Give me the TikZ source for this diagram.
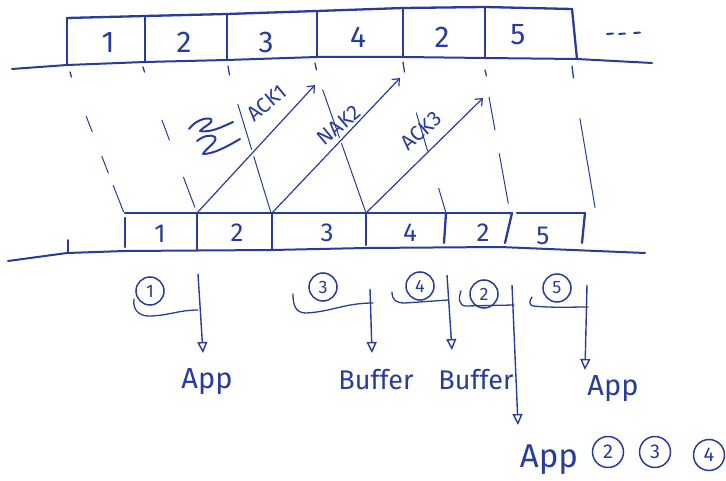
\documentclass[tikz,border=0pt]{standalone}
\usepackage{fontspec}
\setmainfont{Fira Sans}
\usetikzlibrary{arrows.meta,calc}
\definecolor{pen}{RGB}{40,60,155}
\tikzset{
  boxline/.style={pen, line width=2.3pt, line cap=round, line join=round},
  wire/.style={pen, line width=2pt, line cap=round, line join=round},
  prop/.style={pen, line width=1pt, line cap=round},
  tickmark/.style={pen, line width=1.3pt, line cap=round},
  ackarrow/.style={pen, line width=1.2pt, -{Straight Barb[length=6pt,width=10pt]}},
  acklabel/.style={pen, font=\fontsize{21}{21}\selectfont, inner sep=0pt},
  digit/.style={pen, font=\fontsize{30}{30}\selectfont, inner sep=0pt},
  sdigit/.style={pen, font=\fontsize{26}{26}\selectfont, inner sep=0pt},
  circnum/.style={pen, draw, circle, line width=1.5pt, inner sep=0pt, minimum size=28pt, font=\fontsize{18}{18}\selectfont},
  bigcirc/.style={circnum, minimum size=31pt, font=\fontsize{20}{20}\selectfont},
  bracket/.style={pen, line width=1.3pt, line cap=round},
  deliver/.style={pen, line width=1.4pt, -{Triangle[open, length=11pt, width=10pt]}},
  word/.style={pen, font=\fontsize{29}{29}\selectfont, inner sep=0pt, anchor=base},
}
\begin{document}
\begin{tikzpicture}[x=1pt,y=-1pt]
\useasboundingbox (0,0) rectangle (726,481);

% ---------- sender stream (top) ----------
\coordinate (t0) at (67,18);  \coordinate (t1) at (145,16);
\coordinate (t2) at (227,14); \coordinate (t3) at (317,11);
\coordinate (t4) at (403,8);  \coordinate (t5) at (485,7);
\coordinate (t6) at (572,9);
\coordinate (b0) at (67,65);  \coordinate (b1) at (145,62);
\coordinate (b2) at (227,60); \coordinate (b3) at (317,57);
\coordinate (b4) at (403,57); \coordinate (b5) at (485,58);
\coordinate (b6) at (577,59);
\coordinate (tl) at (12,69);  \coordinate (tr) at (652,63);

\draw[wire] (tl) -- (b0) -- (b1) -- (b2) -- (b3) -- (b4) -- (b5) -- (b6) -- (tr);
\draw[boxline] (t0) -- (t1) -- (t2) -- (t3) -- (t4) -- (t5) -- (t6);
\foreach \i in {0,...,5} \draw[boxline] (t\i) -- (b\i);
\draw[boxline] (t6) -- (b6);

\node[digit] (s1) at (108,42) {1};
\node[digit] (s2) at (184,42) {2};
\node[digit] (s3) at (266,42) {3};
\node[digit] (s4) at (358,37) {4};
\node[digit] (s5) at (442,37) {2};
\node[digit] (s6) at (518,35) {5};

% trailing dots
\foreach \x/\y in {607/34,619/34,634/33}
  \draw[pen, line width=2pt, line cap=round] (\x,\y) -- ++(6,-0.5);

% ticks below the sender line
\foreach \x/\ya/\yb in {70/72/77,143/67/72,228/66/75,315/63/70,403/62/72,485/70/76,572/66/78}
  \draw[tickmark] (\x,\ya) -- (\x+1.5,\yb);

% ---------- receiver stream (bottom) ----------
\coordinate (r0) at (125,213); \coordinate (r1) at (197,213);
\coordinate (r2) at (272,213); \coordinate (r3) at (366,213);
\coordinate (r4) at (446,213); \coordinate (r5) at (512,213);
\coordinate (q5) at (517,213); \coordinate (r6) at (585,213);
\coordinate (bl) at (8,261);   \coordinate (br) at (645,253);

\draw[wire] (bl) -- (67,253) -- (125,251) -- (272,250) -- (366,248) -- (500,247) -- (br);
\draw[tickmark, line width=1.6pt] (68,240) -- (68,253);
\draw[boxline] (r0) -- (r5);
\draw[boxline] (q5) -- (r6);
\draw[boxline] (125,218) -- (125,247);
\draw[boxline] (r1) -- (197,250);
\draw[boxline] (r2) -- (272,250);
\draw[boxline] (r3) -- (366,245);
\draw[boxline] (r4) -- (444,243);
\draw[boxline] (r5) -- (505,243);
\draw[boxline] (r6) -- (582,243);

\node[sdigit] (p1) at (160,234) {1};
\node[sdigit] (p2) at (237,233) {2};
\node[sdigit] (p3) at (327,233) {3};
\node[sdigit] (p4) at (410,233) {4};
\node[sdigit] (p5) at (483,233) {2};
\node[sdigit] (p6) at (543,236) {5};

% ---------- propagation lines (sender tick -> receiver edge) ----------
\coordinate (ga) at (70,75);   \coordinate (ha) at (124,213);
\coordinate (gb) at (143,70);  \coordinate (hb) at (197,213);
\coordinate (gc) at (228,72);  \coordinate (hc) at (271,213);
\coordinate (gd) at (315,68);  \coordinate (hd) at (366,213);
\coordinate (ge) at (403,68);  \coordinate (he) at (446,213);
\coordinate (gf) at (485,75);  \coordinate (hf) at (510,213);
\coordinate (gg) at (572,72);  \coordinate (hg) at (596,213);
\foreach \a/\b in {.30/.41,.59/.71,.80/.99}
  \draw[prop] ($(ga)!\a!(ha)$) -- ($(ga)!\b!(ha)$);
\foreach \a/\b in {.35/.49,.75/.96}
  \draw[prop] ($(gb)!\a!(hb)$) -- ($(gb)!\b!(hb)$);
\foreach \a/\b in {.23/.55,.60/1}
  \draw[prop] ($(gc)!\a!(hc)$) -- ($(gc)!\b!(hc)$);
\foreach \a/\b in {.15/.48,.52/1}
  \draw[prop] ($(gd)!\a!(hd)$) -- ($(gd)!\b!(hd)$);
\foreach \a/\b in {.31/.57,.83/1}
  \draw[prop] ($(ge)!\a!(he)$) -- ($(ge)!\b!(he)$);
\foreach \a/\b in {.16/.40,.57/.93}
  \draw[prop] ($(gf)!\a!(hf)$) -- ($(gf)!\b!(hf)$);
\foreach \a/\b in {.33/.96}
  \draw[prop] ($(gg)!\a!(hg)$) -- ($(gg)!\b!(hg)$);

% lost packet mark: two stacked zigzags
\draw[pen, line width=2pt, line cap=round, line join=round]
  (189,129) .. controls (195,121) and (205,117) .. (211,119)
  .. controls (215,122) and (203,127) .. (200,131)
  .. controls (210,133) and (222,127) .. (233,122);
\draw[pen, line width=2pt, line cap=round, line join=round]
  (197,141) .. controls (203,136) and (211,134) .. (215,137)
  .. controls (218,142) and (206,148) .. (203,154)
  .. controls (214,154) and (228,146) .. (240,139);

% ---------- acknowledgements ----------
\coordinate (k1) at (315,85);
\coordinate (k2) at (400,78);
\coordinate (k3) at (483,98);
\draw[ackarrow] (r1) -- (k1);
\draw[ackarrow] (r2) -- (k2);
\draw[ackarrow] (r3) -- (k3);
\node[acklabel, rotate=40] (l1) at (267,103) {ACK1};
\node[acklabel, rotate=40] (l2) at (339,125) {NAK2};
\node[acklabel, rotate=42] (l3) at (421,131) {ACK3};

% ---------- delivery at the receiver ----------
\node[circnum] (c1) at (150,291) {1};
\node[circnum] (c3) at (323,287) {3};
\node[circnum] (c4) at (420,286) {4};
\node[circnum] (c2) at (484,294) {2};
\node[circnum] (c5) at (557,288) {5};

\draw[bracket] (134,299) .. controls (132,312) and (142,317) .. (152,316)
  .. controls (170,315) and (180,310) .. (198,310);
\draw[bracket] (293,294) .. controls (293,306) and (296,313) .. (306,313)
  .. controls (330,312) and (345,303) .. (373,303);
\draw[bracket] (392,292) .. controls (392,300) and (396,303) .. (405,303)
  -- (448,300);
\draw[bracket] (461,291) .. controls (458,298) and (459,306) .. (466,306)
  -- (514,305);
\draw[bracket] (532,297) .. controls (529,301) and (529,305) .. (533,306)
  .. controls (555,308) and (570,307) .. (588,307);

\node[word] (app1) at (207,388) {App};
\node[word, font=\fontsize{27}{27}\selectfont] (buf1) at (376,389) {Buffer};
\node[word, font=\fontsize{27}{27}\selectfont] (buf2) at (476,389) {Buffer};
\node[word] (app5) at (613,395) {App};
\node[word, font=\fontsize{33}{33}\selectfont] (app2) at (549,467) {App};
\node[bigcirc] (o2) at (608,452) {2};
\node[bigcirc] (o3) at (655,452) {3};
\node[bigcirc] (o4) at (709,455) {4};

\coordinate (d1) at (198,274);
\coordinate (d3) at (370,289);
\coordinate (d4) at (447,275);
\coordinate (d2) at (512,285);
\coordinate (d5) at (587,285);
\draw[deliver] (d1) -- (203,353);
\draw[deliver] (d3) -- (372,353);
\draw[deliver] (d4) -- (452,350);
\draw[deliver] (d2) -- (518,425);
\draw[deliver] (d5) -- (585,370);
\end{tikzpicture}
\end{document}
